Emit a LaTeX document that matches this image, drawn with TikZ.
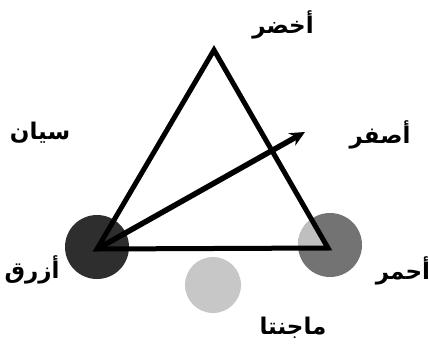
\documentclass[tikz,border=0pt]{standalone}
\usepackage{fontspec}
\newfontfamily\arabicfont[Script=Arabic]{DejaVu Sans}
\TeXXeTstate=1
\usetikzlibrary{arrows.meta}
\begin{document}
\begin{tikzpicture}[x=1pt,y=-1pt,
  lbl/.style={font=\arabicfont\bfseries\fontsize{23}{26}\selectfont, inner sep=0pt},
  disc/.style={circle, inner sep=0pt, minimum size=#1},
  edge/.style={line width=5pt, line join=miter, line cap=butt}]
\useasboundingbox (0,0) rectangle (429,349);
\fill[white] (0,0) rectangle (429,349);
% discs
\node[disc=64pt, fill=black!82] (blue) at (97,247) {};
\node[disc=64pt, fill=black!55] (red) at (330,245) {};
\node[disc=56pt, fill=black!22] (magenta) at (213,285) {};
% vertices
\coordinate (G) at (214,50);
\coordinate (B) at (97,249);
\coordinate (R) at (328,248);
\coordinate (Y) at (305,132);
% lighter overlap of triangle and red disc
\begin{scope}
  \clip (G) -- (B) -- (R) -- cycle;
  \fill[black!25] (red.center) circle (32pt);
\end{scope}
% triangle
\draw[edge] (B) -- (G) -- (R) -- cycle;
% arrow
\draw[line width=5.5pt, -{Stealth[length=15pt,width=14pt]}] (B) -- (Y);
% labels
\node[lbl] (lg) at (283,25) {\beginR أخضر\endR};
\node[lbl] (lc) at (40,133) {\beginR سيان\endR};
\node[lbl] (ly) at (380,135) {\beginR أصفر\endR};
\node[lbl] (lb) at (32,270) {\beginR أزرق\endR};
\node[lbl] (lr) at (403,271) {\beginR أحمر\endR};
\node[lbl] (lm) at (293,328) {\beginR ماجنتا\endR};
\end{tikzpicture}
\end{document}
